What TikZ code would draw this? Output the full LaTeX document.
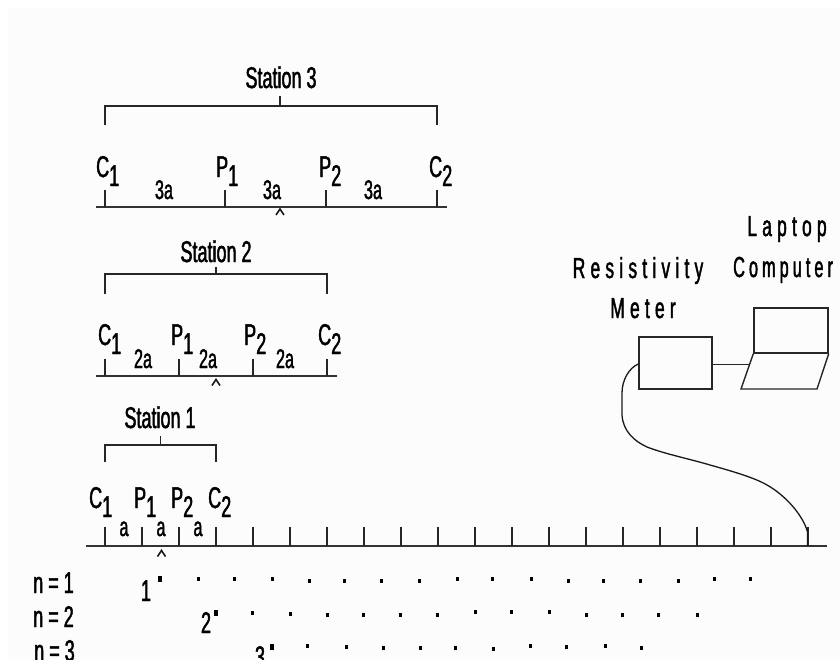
\documentclass[tikz,border=0pt]{standalone}
\usepackage{fontspec}
\setmainfont[FakeStretch=0.6,FakeBold=1.5]{Liberation Sans}
\newfontfamily\widefont[FakeStretch=0.6,FakeBold=1.5,LetterSpace=18]{Liberation Sans}
\newfontfamily\compfont[FakeStretch=0.56,FakeBold=1.5,LetterSpace=14]{Liberation Sans}
\newcommand{\lowsub}[1]{\raisebox{-9pt}{#1}}
\begin{document}
\begin{tikzpicture}[x=1pt,y=-1pt,
  lab/.style={inner sep=0pt,anchor=base west,font=\fontsize{30}{30}\selectfont},
  mid/.style={inner sep=0pt,anchor=base,font=\fontsize{30}{30}\selectfont},
  small/.style={inner sep=0pt,anchor=base,font=\fontsize{27}{27}\selectfont},
  wide/.style={inner sep=0pt,anchor=base,font=\fontsize{29}{29}\widefont},
  ln/.style={line width=1.4pt,black!85},
  gnd/.style={line width=1.7pt,black!80},
  thin tick/.style={line width=1.2pt,black!85},
  caret/.style={line width=1.6pt,black!90},
  box/.style={draw,line width=1.4pt,black!85,inner sep=0pt,minimum height=0pt},
  dot/.style={fill=black,inner sep=0pt,minimum width=3pt,minimum height=4pt},
  bigdot/.style={fill=black,inner sep=0pt,minimum width=4.4pt,minimum height=6.4pt}]
\useasboundingbox (0,0) rectangle (840,659);
\clip (0,0) rectangle (840,659);
\fill[white] (0,0) rectangle (840,659);
\fill[black!1] (8,8) rectangle (840,659);

% Station 3
\node[mid] (s3) at (281,88) {Station 3};
\coordinate (s3l) at (105,106); \coordinate (s3r) at (437,106); \coordinate (s3m) at (280,106);
\draw[ln] (105,125) -- (s3l) -- (s3r) -- (437,125);
\draw[ln] (s3m) -- (280,96);
\coordinate (g3a) at (96,207); \coordinate (g3b) at (447,207);
\draw[gnd] (g3a) -- (g3b);
\foreach \x in {105,225,326,437} \draw[thin tick] (\x,207) -- (\x,190);
\draw[caret] (276,215) -- (280,209) -- (284,215);
\node[lab] (c31) at (96,177) {C\lowsub{1}};
\node[lab] (p31) at (216,177) {P\lowsub{1}};
\node[lab] (p32) at (319,177) {P\lowsub{2}};
\node[lab] (c32) at (429,177) {C\lowsub{2}};
\node[small] (a31) at (164,199) {3a};
\node[small] (a32) at (272,199) {3a};
\node[small] (a33) at (373,199) {3a};

% Station 2
\node[mid] (s2) at (216,262) {Station 2};
\coordinate (s2l) at (105,274); \coordinate (s2r) at (327,274); \coordinate (s2m) at (216,274);
\draw[ln] (105,294) -- (s2l) -- (s2r) -- (327,294);
\draw[ln] (s2m) -- (216,267);
\coordinate (g2a) at (96,376); \coordinate (g2b) at (337,376);
\draw[gnd] (g2a) -- (g2b);
\foreach \x in {105,179,253,327} \draw[thin tick] (\x,376) -- (\x,359);
\draw[caret] (212,385.5) -- (216,379.5) -- (220,385.5);
\node[lab] (c21) at (98,345) {C\lowsub{1}};
\node[lab] (p21) at (171,345) {P\lowsub{1}};
\node[lab] (p22) at (244,345) {P\lowsub{2}};
\node[lab] (c22) at (318,345) {C\lowsub{2}};
\node[small] (a21) at (143,368) {2a};
\node[small] (a22) at (208,368) {2a};
\node[small] (a23) at (285,368) {2a};

% Station 1
\node[mid] (s1) at (160,428) {Station 1};
\coordinate (s1l) at (105,445); \coordinate (s1r) at (216,445); \coordinate (s1m) at (160.5,445);
\draw[ln] (105,462) -- (s1l) -- (s1r) -- (216,462);
\draw[ln] (s1m) -- (160.5,436);
\coordinate (g1a) at (86,546); \coordinate (g1b) at (827,546);
\draw[gnd] (g1a) -- (g1b);
\foreach \i in {0,...,19} \draw[thin tick] ({105+37*\i},546) -- ({105+37*\i},527);
\draw[caret] (157.5,556.5) -- (161.5,550.5) -- (165.5,556.5);
\node[lab] (c11) at (89,508) {C\lowsub{1}};
\node[lab] (p11) at (134,508) {P\lowsub{1}};
\node[lab] (p12) at (171,508) {P\lowsub{2}};
\node[lab] (c12) at (208,508) {C\lowsub{2}};
\node[small] (a11) at (124,536) {a};
\node[small] (a12) at (161,536) {a};
\node[small] (a13) at (198,536) {a};

% Pseudosection
\node[lab] (n1) at (33,593) {n = 1};
\node[lab] (n2) at (33,627) {n = 2};
\node[lab] (n3) at (34,661) {n = 3};
\node[mid] (d1) at (146,601) {1};
\node[mid] (d2) at (206,633) {2};
\node[mid] (d3) at (260,667) {3};
\node[bigdot] (b1) at (160,579) {};
\node[bigdot] (b2) at (216,613) {};
\node[bigdot] (b3) at (272,647) {};
\foreach \x/\y in {198/579,234/579,272/579,309/581,344/581,381/581,419/581,457/579,492/579,531/579,568/581,603/581,640/581,678/581,714/579,750/579}
  \node[dot] at (\x,\y) {};
\foreach \x/\y in {252/613,290/614,327/615,363/615,400/615,437/615,475/612,511/612,549/612,586/615,622/615,658/615,697/615}
  \node[dot] at (\x,\y) {};
\foreach \x/\y in {307/646,346/647,383/648,420/648,455/648,493/649,530/646,566/647,605/646,641/648}
  \node[dot] at (\x,\y) {};

% Instruments
\node[wide] (res) at (638,278) {Resistivity};
\node[wide] (met) at (643,318) {Meter};
\node[wide] (lap) at (787,236) {Laptop};
\node[inner sep=0pt,anchor=base west,font=\fontsize{29}{29}\compfont] (com) at (733,277) {Computer};
\node[box,minimum width=73pt,minimum height=52pt] (meter) at (675.5,363) {};
\node[box,minimum width=74pt,minimum height=45pt] (screen) at (791,330.5) {};
\coordinate (k1) at (screen.south west); \coordinate (k2) at (741,389);
\coordinate (k3) at (817,389); \coordinate (k4) at (screen.south east);
\draw[ln] (k1) -- (k2) -- (k3) -- (k4);
\coordinate (kj) at (750,364.5);
\draw[line width=1.6pt,black!85] (meter.east) ++(0,1.5) -- (kj);
\coordinate (cable) at (807.5,546);
\draw[line width=1.3pt,black!90] (meter.west) ++(0,1)
  .. controls (629,368) and (622,380) .. (622,393)
  -- (622,415)
  .. controls (623,431) and (634,441) .. (647,447)
  .. controls (665,454) and (690,459) .. (710,465)
  .. controls (735,472) and (755,478) .. (767,485)
  .. controls (785,495) and (803,515) .. (807.5,532)
  -- (cable);
\end{tikzpicture}
\end{document}
